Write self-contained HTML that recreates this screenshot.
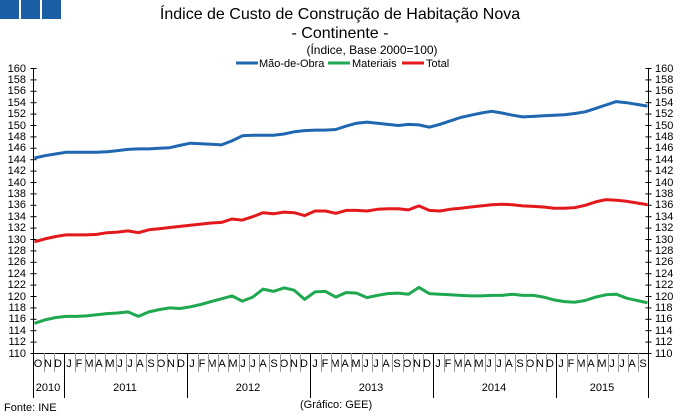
<!DOCTYPE html>
<html><head><meta charset="utf-8"><style>
body{margin:0;background:#fff;width:680px;height:416px;overflow:hidden}
svg{display:block;font-family:"Liberation Sans",Arial,sans-serif}
</style></head><body>
<svg id="s" width="680" height="416" viewBox="0 0 680 416">
<rect x="0" y="0" width="19" height="19" fill="#1a5fa3"/>
<rect x="21" y="0" width="19" height="19" fill="#1a5fa3"/>
<rect x="42" y="0" width="19" height="19" fill="#1a5fa3"/>
<text x="340" y="19" font-size="16" text-anchor="middle">Índice de Custo de Construção de Habitação Nova</text>
<text x="340" y="38" font-size="16" text-anchor="middle">- Continente -</text>
<text x="372" y="54" font-size="12" text-anchor="middle">(Índice, Base 2000=100)</text>
<line x1="236" y1="63" x2="258" y2="63" stroke="#1f67b0" stroke-width="3"/>
<text x="259" y="67" font-size="11">Mão-de-Obra</text>
<line x1="328" y1="63" x2="350" y2="63" stroke="#1fa84f" stroke-width="3"/>
<text x="352" y="67" font-size="11">Materiais</text>
<line x1="402" y1="63" x2="424" y2="63" stroke="#e3191c" stroke-width="3"/>
<text x="426" y="67" font-size="11">Total</text>
<g font-size="11" fill="#000">
<g text-anchor="end">
<text x="26" y="72">160</text><text x="26" y="83">158</text><text x="26" y="94">156</text><text x="26" y="106">154</text><text x="26" y="117">152</text><text x="26" y="129">150</text><text x="26" y="140">148</text><text x="26" y="151">146</text><text x="26" y="163">144</text><text x="26" y="174">142</text><text x="26" y="186">140</text><text x="26" y="197">138</text><text x="26" y="208">136</text><text x="26" y="220">134</text><text x="26" y="231">132</text><text x="26" y="243">130</text><text x="26" y="254">128</text><text x="26" y="265">126</text><text x="26" y="277">124</text><text x="26" y="288">122</text><text x="26" y="300">120</text><text x="26" y="311">118</text><text x="26" y="322">116</text><text x="26" y="334">114</text><text x="26" y="345">112</text><text x="26" y="357">110</text>
</g>
<g>
<text x="655" y="72">160</text><text x="655" y="83">158</text><text x="655" y="94">156</text><text x="655" y="106">154</text><text x="655" y="117">152</text><text x="655" y="129">150</text><text x="655" y="140">148</text><text x="655" y="151">146</text><text x="655" y="163">144</text><text x="655" y="174">142</text><text x="655" y="186">140</text><text x="655" y="197">138</text><text x="655" y="208">136</text><text x="655" y="220">134</text><text x="655" y="231">132</text><text x="655" y="243">130</text><text x="655" y="254">128</text><text x="655" y="265">126</text><text x="655" y="277">124</text><text x="655" y="288">122</text><text x="655" y="300">120</text><text x="655" y="311">118</text><text x="655" y="322">116</text><text x="655" y="334">114</text><text x="655" y="345">112</text><text x="655" y="357">110</text>
</g>
<g id="ml" text-anchor="middle">
<text x="38" y="367">O</text><text x="48" y="367">N</text><text x="58" y="367">D</text>
<text x="69" y="367">J</text><text x="79" y="367">F</text><text x="89" y="367">M</text><text x="99" y="367">A</text><text x="110" y="367">M</text><text x="120" y="367">J</text><text x="130" y="367">J</text><text x="140" y="367">A</text><text x="151" y="367">S</text><text x="161" y="367">O</text><text x="171" y="367">N</text><text x="181" y="367">D</text>
<text x="192" y="367">J</text><text x="202" y="367">F</text><text x="212" y="367">M</text><text x="222" y="367">A</text><text x="233" y="367">M</text><text x="243" y="367">J</text><text x="253" y="367">J</text><text x="263" y="367">A</text><text x="274" y="367">S</text><text x="284" y="367">O</text><text x="294" y="367">N</text><text x="304" y="367">D</text>
<text x="315" y="367">J</text><text x="325" y="367">F</text><text x="335" y="367">M</text><text x="345" y="367">A</text><text x="356" y="367">M</text><text x="366" y="367">J</text><text x="376" y="367">J</text><text x="386" y="367">A</text><text x="397" y="367">S</text><text x="407" y="367">O</text><text x="417" y="367">N</text><text x="427" y="367">D</text>
<text x="438" y="367">J</text><text x="448" y="367">F</text><text x="458" y="367">M</text><text x="468" y="367">A</text><text x="479" y="367">M</text><text x="489" y="367">J</text><text x="499" y="367">J</text><text x="509" y="367">A</text><text x="520" y="367">S</text><text x="530" y="367">O</text><text x="540" y="367">N</text><text x="550" y="367">D</text>
<text x="561" y="367">J</text><text x="571" y="367">F</text><text x="581" y="367">M</text><text x="591" y="367">A</text><text x="602" y="367">M</text><text x="612" y="367">J</text><text x="622" y="367">J</text><text x="632" y="367">A</text><text x="643" y="367">S</text>
</g>
<g text-anchor="middle">
<text x="48" y="391">2010</text><text x="125" y="391">2011</text><text x="248" y="391">2012</text><text x="371" y="391">2013</text><text x="494" y="391">2014</text><text x="602" y="391">2015</text>
</g>
<text x="4" y="411">Fonte: INE</text>
<text x="300" y="408">(Gráfico: GEE)</text>
</g>
<g id="ax" stroke="#000" stroke-width="1"></g>
<g id="ln" fill="none" stroke-width="3" stroke-linejoin="round"></g>
</svg>
<script>
var ns="http://www.w3.org/2000/svg",ax=document.getElementById('ax'),ln=document.getElementById('ln');
function L(p,x1,y1,x2,y2,c){var l=document.createElementNS(ns,'line');l.setAttribute('x1',x1);l.setAttribute('y1',y1);l.setAttribute('x2',x2);l.setAttribute('y2',y2);if(c)l.setAttribute('stroke',c);p.appendChild(l);}
var X0=33.5,X1=648.5,W=(X1-X0)/60;
function Y(v){return 353.5-(v-110)*5.7;}
L(ax,X0,68,X0,353.5);L(ax,X1,68,X1,353.5);L(ax,X0,353.5,X1,353.5);
for(var v=110;v<=160;v+=2){var y=Y(v);L(ax,X0-3,y,X0+3,y);L(ax,X1-3,y,X1+3,y);}
for(var i=1;i<60;i++){var x=Math.round(X0+i*W)+0.5;if((i-3)%12==0)L(ax,x,353,x,398);else L(ax,x,353,x,372,'#999');}
L(ax,X0,353,X0,398);L(ax,X1,353,X1,398);
var B=[144.3,144.7,145.0,145.3,145.3,145.3,145.3,145.4,145.6,145.8,145.9,145.9,146.0,146.1,146.5,146.9,146.8,146.7,146.6,147.3,148.2,148.3,148.3,148.3,148.5,148.9,149.1,149.2,149.2,149.3,149.9,150.4,150.6,150.4,150.2,150.0,150.2,150.1,149.7,150.2,150.8,151.4,151.8,152.2,152.5,152.2,151.8,151.5,151.6,151.7,151.8,151.9,152.1,152.4,153.0,153.6,154.2,154.0,153.7,153.4];
var R=[129.6,130.1,130.5,130.8,130.8,130.8,130.9,131.2,131.3,131.5,131.2,131.7,131.9,132.1,132.3,132.5,132.7,132.9,133.0,133.6,133.4,134.0,134.7,134.5,134.8,134.7,134.2,135.0,135.0,134.6,135.1,135.1,135.0,135.3,135.4,135.4,135.2,135.9,135.1,135.0,135.3,135.5,135.7,135.9,136.1,136.2,136.1,135.9,135.8,135.7,135.5,135.5,135.6,136.0,136.6,137.0,136.9,136.7,136.4,136.1];
var G=[115.3,115.9,116.3,116.5,116.5,116.6,116.8,117.0,117.1,117.3,116.5,117.3,117.7,118.0,117.9,118.2,118.6,119.1,119.6,120.1,119.2,119.9,121.3,120.9,121.5,121.1,119.5,120.8,120.9,119.9,120.7,120.6,119.8,120.2,120.5,120.6,120.4,121.6,120.5,120.4,120.3,120.2,120.1,120.1,120.2,120.2,120.4,120.2,120.2,119.9,119.4,119.1,119.0,119.3,119.9,120.3,120.4,119.7,119.3,118.9];
function P(d,c){var s=[];for(var i=0;i<d.length;i++){var x=X0+1+i*(X1-X0-2)/59;s.push(x.toFixed(1)+','+Y(d[i]).toFixed(1));}var p=document.createElementNS(ns,'polyline');p.setAttribute('points',s.join(' '));p.setAttribute('stroke',c);ln.appendChild(p);}
P(B,'#1f67b0');P(G,'#1fa84f');P(R,'#e3191c');
</script>
</body></html>
